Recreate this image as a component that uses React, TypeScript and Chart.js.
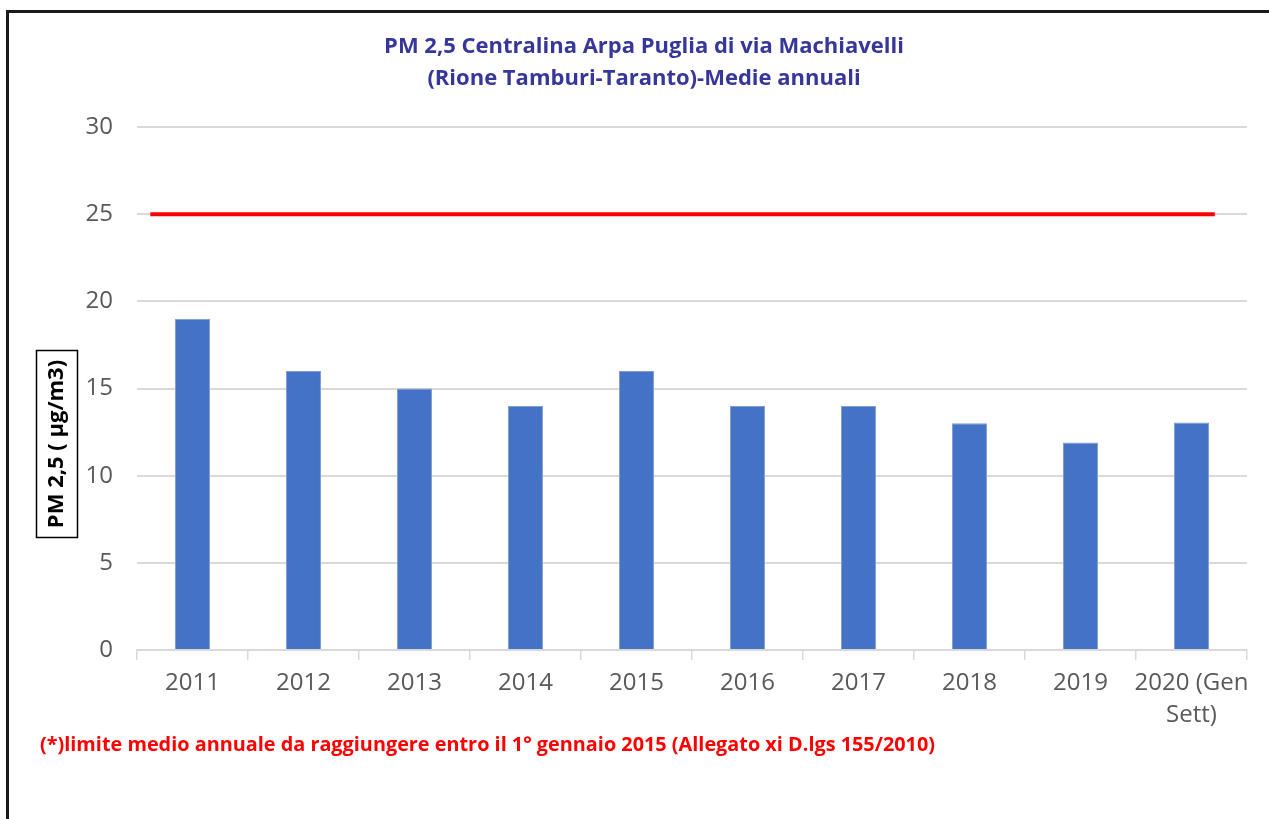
import React, { useEffect, useRef } from "react";
import { Chart, registerables } from "chart.js";

Chart.register(...registerables);

const categories: (string | string[])[] = [
  "2011", "2012", "2013", "2014", "2015", "2016", "2017", "2018", "2019", ["2020 (Gen", "Sett)"],
];
const pmValues = [19, 16, 15, 14, 16, 14, 14, 13, 11.9, 13.05];
const limitValue = 25;
const limitLineX = [0.12, 9.71];
const yTicks = { min: 0, max: 30, step: 5 };
const titleLines = [
  "PM 2,5 Centralina Arpa Puglia di via Machiavelli",
  "(Rione Tamburi-Taranto)-Medie annuali",
];
const yAxisTitle = "PM 2,5 ( µg/m3)";
const footnote =
  "(*)limite medio annuale da raggiungere entro il 1° gennaio 2015 (Allegato xi D.lgs 155/2010)";

const FONT = "'Open Sans', 'Noto Sans', sans-serif";

const textPlugin = {
  id: "textPlugin",
  afterDraw(chart: any) {
    const ctx = chart.ctx;
    ctx.save();
    // Title
    ctx.fillStyle = "#37379A";
    ctx.font = `bold 22px ${FONT}`;
    ctx.textAlign = "center";
    ctx.textBaseline = "middle";
    ctx.fillText(titleLines[0], 644, 47, 522);
    ctx.fillText(titleLines[1], 644, 79, 437);
    // Footnote
    ctx.fillStyle = "#FF0000";
    ctx.font = `bold 20px ${FONT}`;
    ctx.textAlign = "left";
    ctx.fillText(footnote, 40, 745, 895);
    // Y axis title with box
    ctx.strokeStyle = "#000000";
    ctx.lineWidth = 1.5;
    ctx.strokeRect(36.5, 350.5, 41, 187);
    ctx.translate(57, 444);
    ctx.rotate(-Math.PI / 2);
    ctx.fillStyle = "#000000";
    ctx.font = `bold 22px ${FONT}`;
    ctx.textAlign = "center";
    ctx.fillText(yAxisTitle, 0, 0, 173);
    ctx.restore();
  },
};

export default function App() {
  const canvasRef = useRef<HTMLCanvasElement | null>(null);

  useEffect(() => {
    document.body.style.margin = "0";
    const canvas = canvasRef.current;
    if (!canvas) return;
    const chart = new Chart(canvas, {
      type: "bar",
      data: {
        labels: categories as any,
        datasets: [
          {
            type: "line",
            label: "limite",
            data: limitLineX.map((x) => ({ x, y: limitValue })) as any,
            xAxisID: "x2",
            borderColor: "#FF0000",
            borderWidth: 4,
            pointRadius: 0,
            fill: false,
            order: 0,
          } as any,
          {
            type: "bar",
            label: "PM 2,5",
            data: pmValues,
            xAxisID: "x",
            backgroundColor: "#4472C4",
            borderColor: "#7F9DD6",
            borderWidth: 1,
            barPercentage: 0.315,
            categoryPercentage: 1,
            grouped: false,
            order: 1,
          } as any,
        ],
      },
      options: {
        animation: false,
        responsive: false,
        maintainAspectRatio: false,
        layout: { padding: { left: 0, right: 22, top: 127, bottom: 89 } },
        plugins: {
          legend: { display: false },
          tooltip: { enabled: false },
          title: { display: false },
        },
        scales: {
          x: {
            type: "category",
            offset: true,
            grid: {
              display: true,
              drawOnChartArea: false,
              drawTicks: true,
              tickLength: 10,
              color: "#D9D9D9",
              lineWidth: 1.5,
              offset: true,
            },
            border: { display: true, color: "#D9D9D9", width: 1.5 },
            ticks: {
              color: "#595959",
              font: { family: FONT, size: 24, lineHeight: 1.33 },
              padding: 7,
              maxRotation: 0,
              autoSkip: false,
            },
            afterFit(scale: any) {
              scale.height = 80;
            },
          },
          x2: {
            type: "linear",
            display: false,
            min: 0,
            max: 10,
            offset: false,
          },
          y: {
            min: yTicks.min,
            max: yTicks.max,
            ticks: {
              stepSize: yTicks.step,
              color: "#595959",
              font: { family: FONT, size: 24 },
              padding: 24,
            },
            grid: {
              color: "#D9D9D9",
              lineWidth: 2,
              drawTicks: false,
            },
            border: { display: false },
            afterFit(scale: any) {
              scale.width = 137;
            },
          },
        },
      } as any,
      plugins: [textPlugin],
    });
    return () => chart.destroy();
  }, []);

  return (
    <div style={{ position: "relative", width: 1269, height: 819, background: "#ffffff" }}>
      <canvas ref={canvasRef} width={1269} height={819} style={{ display: "block" }} />
      <div
        style={{
          position: "absolute",
          left: 6,
          top: 10,
          width: 1263,
          height: 809,
          borderLeft: "3px solid #1a1a1a",
          borderTop: "3px solid #1a1a1a",
          boxSizing: "border-box",
          pointerEvents: "none",
        }}
      />
    </div>
  );
}
